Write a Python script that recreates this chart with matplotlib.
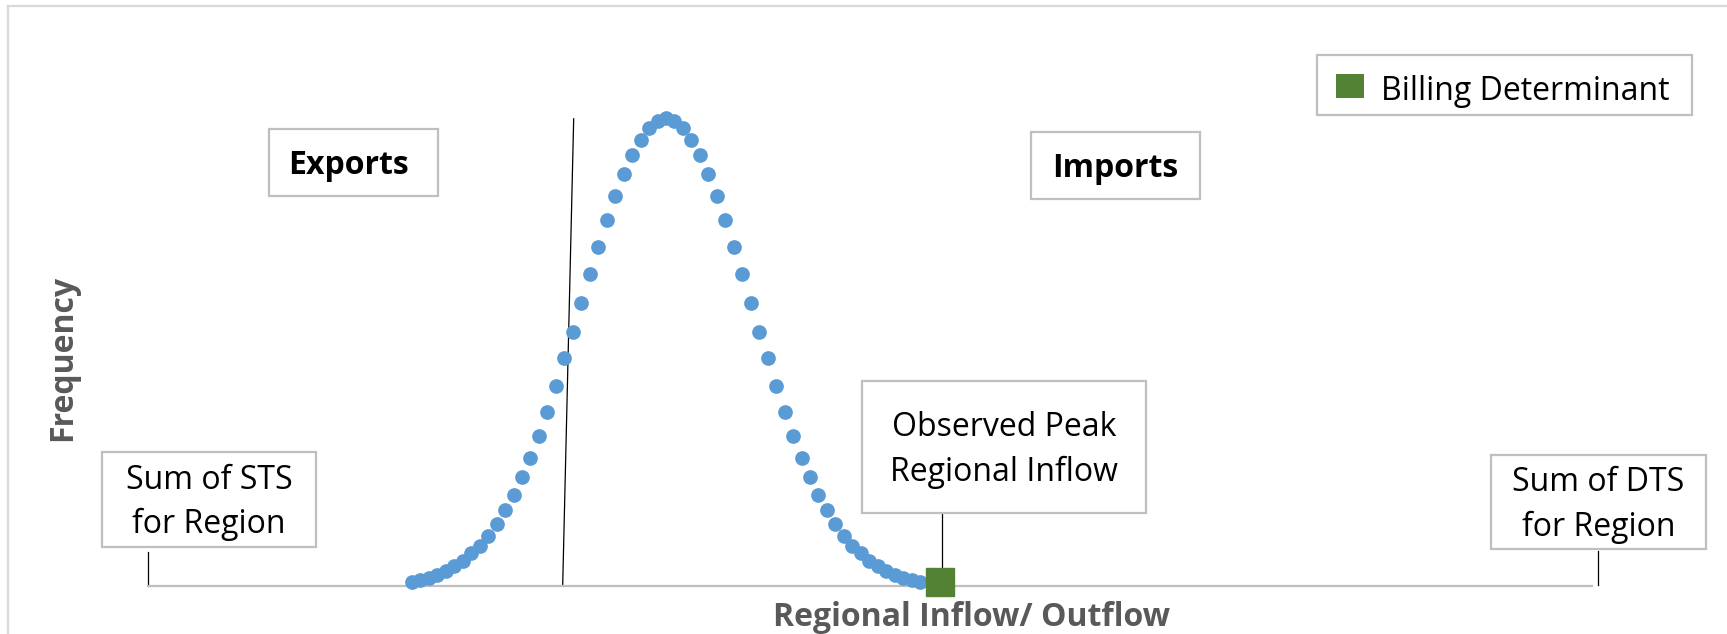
import matplotlib
matplotlib.use('Agg')
import matplotlib.pyplot as plt
from matplotlib.patches import Rectangle
from matplotlib.lines import Line2D
import numpy as np

### data
# regional inflow in standard deviations from the mean, equally spaced bins
inflow = np.linspace(-3, 3, 61)
# relative frequency (peak = 100)
freq = [0.9, 1.3, 1.7, 2.4, 3.2, 4.3, 5.3, 7.1, 8.5, 10.7, 13.2, 16.2, 19.4, 23.3, 27.4,
        32.1, 37.2, 42.7, 48.7, 54.3, 60.5, 66.7, 72.4, 78.2, 83.3, 88.0, 92.1, 95.3, 97.9,
        99.4, 100.0,
        99.4, 97.9, 95.3, 92.1, 88.0, 83.3, 78.2, 72.4, 66.7, 60.5, 54.3, 48.7, 42.7, 37.2,
        32.1, 27.4, 23.3, 19.4, 16.2, 13.2, 10.7, 8.5, 7.1, 5.3, 4.3, 3.2, 2.4, 1.7, 1.3, 0.9]
billing_x = [3.24]
billing_y = [0.9]
sts_x = -6.12     # sum of STS for region
dts_x = 11.0      # sum of DTS for region
split_line_x = [-1.09, -1.22]
split_line_y = [99.8, 0]

### style
W, H = 1727, 634
blue = '#5b9bd5'
green = '#548235'
grey_box = '#bfbfbf'
grey_txt = '#595959'
font = 'Open Sans'
fs = 23

fig = plt.figure(figsize=(W / 100, H / 100), dpi=100)

def fx(x):
    return x / W

def fy(y):
    return 1 - y / H

# axes: bottom spine is the inflow/outflow line
ax = fig.add_axes([fx(148), fy(586), (1592 - 148) / W, 580 / H])
ax.set_xlim(-6.116, 10.933)
ax.set_ylim(0, 123.9)
for s in ['top', 'right', 'left']:
    ax.spines[s].set_visible(False)
ax.spines['bottom'].set_color(grey_box)
ax.spines['bottom'].set_linewidth(1.6)
ax.set_xticks([])
ax.set_yticks([])
ax.patch.set_alpha(0)

ax.scatter(inflow, freq, s=112, color=blue, zorder=3, clip_on=False, linewidths=0)
ax.plot(billing_x, billing_y, marker='s', markersize=20, color=green, linestyle='none',
        zorder=4, clip_on=False)
ax.plot(split_line_x, split_line_y, color='black', lw=0.9, zorder=2, clip_on=False)

# connectors from the labels down to the axis
ax.plot([sts_x, sts_x], [0, 7.3], color='black', lw=0.9, clip_on=False)
ax.plot([dts_x, dts_x], [0.2, 7.5], color='black', lw=0.9, clip_on=False)
ax.plot([billing_x[0] + 0.02] * 2, [3.2, 15.6], color='black', lw=0.9, clip_on=False)

ax.set_xlabel('Regional Inflow/ Outflow', fontsize=fs, fontweight='bold', color=grey_txt,
              family=font)
ax.xaxis.set_label_coords((971 - 148) / 1444, -31 / 580)
ax.xaxis.label.set_va('center')
fig.text(fx(63), fy(358), 'Frequency', rotation=90, ha='center', va='center',
         fontsize=fs, fontweight='bold', color=grey_txt, family=font)

# outer chart border (top and left visible)
fig.add_artist(Line2D([fx(8), 1], [fy(6), fy(6)], color='#d9d9d9', lw=1.6))
fig.add_artist(Line2D([fx(8), fx(8)], [fy(6), 0], color='#d9d9d9', lw=1.6))

def box(x0, y0, x1, y1, text, bold=False, dx=0):
    fig.add_artist(Rectangle((fx(x0), fy(y1)), fx(x1 - x0), (y1 - y0) / H,
                             transform=fig.transFigure, facecolor='white',
                             edgecolor=grey_box, lw=1.6))
    fig.text(fx((x0 + x1) / 2 + dx), fy((y0 + y1) / 2 + 3), text, ha='center', va='center',
             fontsize=fs, fontweight='bold' if bold else 'normal', family=font,
             linespacing=1.45, color='black')

box(102, 452, 316, 547, 'Sum of STS\nfor Region')
box(1491, 455, 1706, 549, 'Sum of DTS\nfor Region')
box(269, 129, 438, 196, 'Exports', bold=True, dx=-5)
box(1031, 132, 1200, 199, 'Imports', bold=True)
box(862, 381, 1146, 513, 'Observed Peak\nRegional Inflow')

# legend
fig.add_artist(Rectangle((fx(1317), fy(115)), fx(1692 - 1317), 60 / H,
                         transform=fig.transFigure, facecolor='white',
                         edgecolor=grey_box, lw=1.6))
fig.add_artist(Rectangle((fx(1336), fy(98)), fx(28), 24 / H,
                         transform=fig.transFigure, facecolor=green, edgecolor='none'))
fig.text(fx(1381), fy(92), 'Billing Determinant', ha='left', va='center',
         fontsize=fs, family=font, color='black')

plt.savefig('out.png', dpi=100)
